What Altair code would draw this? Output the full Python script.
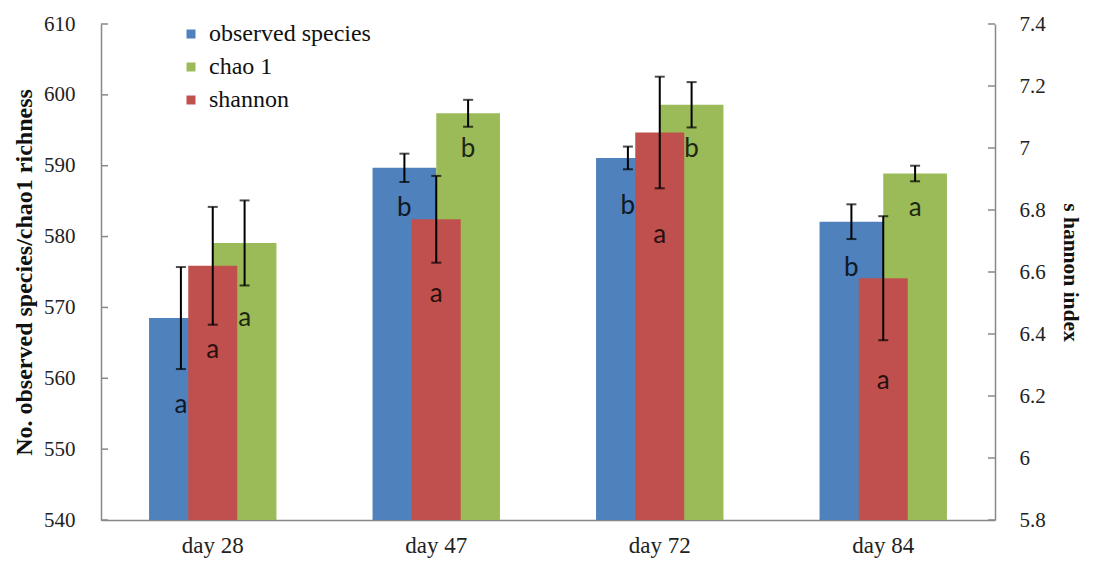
import altair as alt
import pandas as pd

days = ["day 28", "day 47", "day 72", "day 84"]
observed = [568.5, 589.7, 591.1, 582.1]
observed_err = [7.2, 2.0, 1.6, 2.45]
chao1 = [579.1, 597.4, 598.6, 588.9]
chao1_err = [6.0, 1.9, 3.2, 1.1]
shannon = [6.62, 6.77, 7.05, 6.58]
shannon_err = [0.19, 0.14, 0.18, 0.20]
letters_obs = ["a", "b", "b", "b"]
letters_chao = ["a", "b", "b", "a"]
letters_sh = ["a", "a", "a", "a"]
label_obs = [556.2, 584.0, 584.3, 575.6]
label_chao = [568.5, 592.4, 592.4, 584.0]
label_sh = [6.35, 6.53, 6.72, 6.25]
left_ticks = [540, 550, 560, 570, 580, 590, 600, 610]
right_ticks = [5.8, 6.0, 6.2, 6.4, 6.6, 6.8, 7.0, 7.2, 7.4]
series_names = ["observed species", "chao 1", "shannon"]
series_colors = ["#4F81BD", "#9BBB59", "#C0504D"]

W, H = 894, 496
SERIF = "Liberation Serif"

df_l = pd.DataFrame({
    "day": days * 2,
    "series": ["observed species"] * 4 + ["chao 1"] * 4,
    "value": observed + chao1,
    "err": observed_err + chao1_err,
    "letter": letters_obs + letters_chao,
    "label_y": label_obs + label_chao,
})
df_l["lo"] = df_l["value"] - df_l["err"]
df_l["hi"] = df_l["value"] + df_l["err"]

df_r = pd.DataFrame({
    "day": days,
    "series": ["shannon"] * 4,
    "value": shannon,
    "err": shannon_err,
    "letter": letters_sh,
    "label_y": label_sh,
})
df_r["lo"] = df_r["value"] - df_r["err"]
df_r["hi"] = df_r["value"] + df_r["err"]

color = alt.Color(
    "series:N",
    scale=alt.Scale(domain=series_names, range=series_colors),
    legend=alt.Legend(
        title=None, orient="none", legendX=78, legendY=-2,
        symbolType="square", symbolSize=81, symbolStrokeWidth=0,
        labelFont=SERIF, labelFontSize=24, labelColor="#111", labelLimit=0,
        rowPadding=9, labelOffset=6,
    ),
)

x_axis = alt.Axis(title=None, labelAngle=0, ticks=False, labelPadding=14,
                  labelFontSize=23)
x = alt.X("day:N", sort=days,
          scale=alt.Scale(paddingInner=0.43, paddingOuter=0.215), axis=x_axis)
xo = alt.XOffset("series:N", sort=["observed species", "chao 1"],
                 scale=alt.Scale(paddingInner=0, paddingOuter=0))

scale_l = alt.Scale(domain=[540, 610], nice=False, zero=False)
scale_r = alt.Scale(domain=[5.8, 7.4], nice=False, zero=False)

axis_l = alt.Axis(values=left_ticks, title="No. observed species/chao1 richness",
                  ticks=False, labelPadding=26, titlePadding=7,
                  labelFontSize=21, titleFontSize=24, titleFontWeight="bold")
axis_r = alt.Axis(values=right_ticks, orient="right", format=".2~f",
                  title="s hannon index", ticks=False, labelPadding=24,
                  titlePadding=13, labelFontSize=21, titleFontSize=21.5,
                  titleFontWeight="bold")


def yl(field):
    return alt.Y(field, scale=scale_l, axis=axis_l)


def yr(field):
    return alt.Y(field, scale=scale_r, axis=axis_r)


base_l = alt.Chart(df_l)
bars_l = base_l.mark_bar().encode(
    x=x, xOffset=xo, y=yl("value:Q"), y2=alt.datum(540), color=color)
rule_l = base_l.mark_rule(color="black", strokeWidth=2).encode(
    x=x, xOffset=xo, y=yl("lo:Q"), y2="hi:Q")
cap_hi_l = base_l.mark_tick(color="black", thickness=2, size=10).encode(
    x=x, xOffset=xo, y=yl("hi:Q"))
cap_lo_l = base_l.mark_tick(color="black", thickness=2, size=10).encode(
    x=x, xOffset=xo, y=yl("lo:Q"))
text_l = base_l.mark_text(font="Lato", fontSize=26, color="black", opacity=0.8).encode(
    x=x, xOffset=xo, y=yl("label_y:Q"), text="letter:N")
ticks_l = alt.Chart(pd.DataFrame({"t": left_ticks})).mark_rule(
    color="#888", strokeWidth=1.5).encode(
    x=alt.value(0), x2=alt.value(7), y=yl("t:Q"))

left = alt.layer(bars_l, rule_l, cap_hi_l, cap_lo_l, text_l, ticks_l)

base_r = alt.Chart(df_r)
bars_r = base_r.mark_bar(width=49).encode(
    x=x, y=yr("value:Q"), y2=alt.datum(5.8), color=color)
rule_r = base_r.mark_rule(color="black", strokeWidth=2).encode(
    x=x, y=yr("lo:Q"), y2="hi:Q")
cap_hi_r = base_r.mark_tick(color="black", thickness=2, size=10).encode(
    x=x, y=yr("hi:Q"))
cap_lo_r = base_r.mark_tick(color="black", thickness=2, size=10).encode(
    x=x, y=yr("lo:Q"))
text_r = base_r.mark_text(font="Lato", fontSize=26, color="black", opacity=0.8).encode(
    x=x, y=yr("label_y:Q"), text="letter:N")
ticks_r = alt.Chart(pd.DataFrame({"t": right_ticks})).mark_rule(
    color="#888", strokeWidth=1.5).encode(
    x=alt.value(W - 7), x2=alt.value(W), y=yr("t:Q"))

right = alt.layer(bars_r, rule_r, cap_hi_r, cap_lo_r, text_r, ticks_r)

chart = alt.layer(left, right).resolve_scale(y="independent").properties(
    width=W, height=H,
    padding={"left": 4, "right": 2, "top": 5, "bottom": 5},
).configure_view(strokeWidth=0).configure_axis(
    labelFont=SERIF, titleFont=SERIF, labelColor="#222", titleColor="#111",
    domainColor="#888", domainWidth=1.5, grid=False
)

chart.save("out.html", embed_options={"renderer": "svg", "actions": False})
